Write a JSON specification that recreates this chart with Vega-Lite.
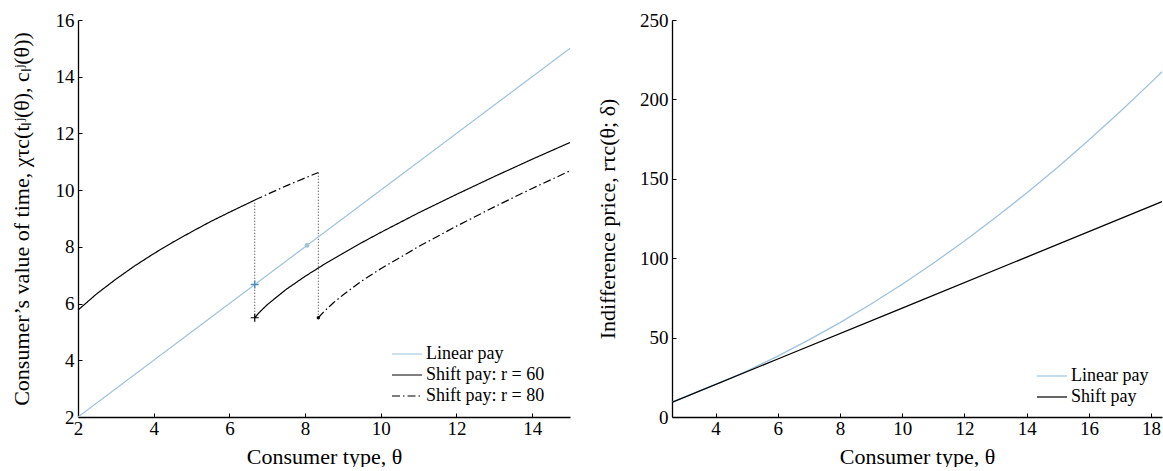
{
  "$schema": "https://vega.github.io/schema/vega-lite/v6.json",
  "padding": {"left": 10, "top": 11, "right": 0, "bottom": 0},
  "background": "white",
  "bounds": "flush",
  "spacing": 102,
  "resolve": {"scale": {"color": "independent", "strokeDash": "independent", "x": "independent", "y": "independent"}, "legend": {"color": "independent", "strokeDash": "independent"}},
  "config": {
    "view": {"stroke": null},
    "font": "Liberation Serif",
    "axis": {
      "grid": false,
      "domainColor": "#000",
      "domainWidth": 1.3,
      "tickColor": "#000",
      "tickSize": -4,
      "tickWidth": 1,
      "labelFont": "Liberation Serif",
      "labelFontWeight": "normal",
      "labelFontSize": 19,
      "labelColor": "#000",
      "labelPadding": 6,
      "labelFlush": false,
      "labelOverlap": false,
      "titleFont": "Liberation Serif",
      "titleFontSize": 22,
      "titleFontWeight": "normal",
      "titleColor": "#000"
    },
    "axisY": {"labelPadding": 8},
    "legend": {
      "labelFont": "Liberation Serif",
      "labelFontWeight": "normal",
      "labelFontSize": 18,
      "labelColor": "#000",
      "symbolType": "M-1.5,0L1.5,0",
      "symbolSize": 400,
      "symbolStrokeWidth": 1.2,
      "symbolFillColor": "transparent",
      "rowPadding": 1,
      "labelOffset": 8,
      "padding": 0
    }
  },
  "datasets": {
    "leftLines": [
      {"theta": 2, "value": 2, "series": "Linear pay", "seg": "a"},
      {"theta": 6, "value": 6, "series": "Linear pay", "seg": "a"},
      {"theta": 10, "value": 10, "series": "Linear pay", "seg": "a"},
      {"theta": 15, "value": 15, "series": "Linear pay", "seg": "a"},
      {"theta": 2, "value": 5.77, "series": "Shift pay: r = 60", "seg": "a"},
      {"theta": 2.5, "value": 6.35, "series": "Shift pay: r = 60", "seg": "a"},
      {"theta": 3, "value": 6.86, "series": "Shift pay: r = 60", "seg": "a"},
      {"theta": 3.5, "value": 7.33, "series": "Shift pay: r = 60", "seg": "a"},
      {"theta": 4, "value": 7.76, "series": "Shift pay: r = 60", "seg": "a"},
      {"theta": 4.5, "value": 8.16, "series": "Shift pay: r = 60", "seg": "a"},
      {"theta": 5, "value": 8.53, "series": "Shift pay: r = 60", "seg": "a"},
      {"theta": 5.5, "value": 8.89, "series": "Shift pay: r = 60", "seg": "a"},
      {"theta": 6, "value": 9.22, "series": "Shift pay: r = 60", "seg": "a"},
      {"theta": 6.5, "value": 9.54, "series": "Shift pay: r = 60", "seg": "a"},
      {"theta": 6.67, "value": 9.65, "series": "Shift pay: r = 60", "seg": "a"},
      {"theta": 6.67, "value": 5.5, "series": "Shift pay: r = 60", "seg": "b"},
      {"theta": 6.8, "value": 5.7, "series": "Shift pay: r = 60", "seg": "b"},
      {"theta": 7, "value": 5.96, "series": "Shift pay: r = 60", "seg": "b"},
      {"theta": 7.5, "value": 6.5, "series": "Shift pay: r = 60", "seg": "b"},
      {"theta": 8, "value": 6.96, "series": "Shift pay: r = 60", "seg": "b"},
      {"theta": 8.5, "value": 7.38, "series": "Shift pay: r = 60", "seg": "b"},
      {"theta": 9, "value": 7.77, "series": "Shift pay: r = 60", "seg": "b"},
      {"theta": 9.5, "value": 8.15, "series": "Shift pay: r = 60", "seg": "b"},
      {"theta": 10, "value": 8.51, "series": "Shift pay: r = 60", "seg": "b"},
      {"theta": 11, "value": 9.2, "series": "Shift pay: r = 60", "seg": "b"},
      {"theta": 12, "value": 9.85, "series": "Shift pay: r = 60", "seg": "b"},
      {"theta": 13, "value": 10.48, "series": "Shift pay: r = 60", "seg": "b"},
      {"theta": 14, "value": 11.09, "series": "Shift pay: r = 60", "seg": "b"},
      {"theta": 15, "value": 11.68, "series": "Shift pay: r = 60", "seg": "b"},
      {"theta": 6.67, "value": 9.65, "series": "Shift pay: r = 80", "seg": "a"},
      {"theta": 7, "value": 9.85, "series": "Shift pay: r = 80", "seg": "a"},
      {"theta": 7.5, "value": 10.15, "series": "Shift pay: r = 80", "seg": "a"},
      {"theta": 8, "value": 10.43, "series": "Shift pay: r = 80", "seg": "a"},
      {"theta": 8.35, "value": 10.62, "series": "Shift pay: r = 80", "seg": "a"},
      {"theta": 8.35, "value": 5.5, "series": "Shift pay: r = 80", "seg": "b"},
      {"theta": 8.5, "value": 5.72, "series": "Shift pay: r = 80", "seg": "b"},
      {"theta": 8.75, "value": 6.03, "series": "Shift pay: r = 80", "seg": "b"},
      {"theta": 9, "value": 6.3, "series": "Shift pay: r = 80", "seg": "b"},
      {"theta": 9.5, "value": 6.8, "series": "Shift pay: r = 80", "seg": "b"},
      {"theta": 10, "value": 7.23, "series": "Shift pay: r = 80", "seg": "b"},
      {"theta": 11, "value": 8.01, "series": "Shift pay: r = 80", "seg": "b"},
      {"theta": 12, "value": 8.73, "series": "Shift pay: r = 80", "seg": "b"},
      {"theta": 13, "value": 9.41, "series": "Shift pay: r = 80", "seg": "b"},
      {"theta": 14, "value": 10.06, "series": "Shift pay: r = 80", "seg": "b"},
      {"theta": 15, "value": 10.68, "series": "Shift pay: r = 80", "seg": "b"}
    ],
    "jumps": [
      {"theta": 6.67, "lo": 5.5, "hi": 9.65},
      {"theta": 8.35, "lo": 5.5, "hi": 10.62}
    ],
    "rightLines": [
      {"theta": 2.6, "value": 9.6, "series": "Linear pay"},
      {"theta": 3, "value": 12.55, "series": "Linear pay"},
      {"theta": 3.5, "value": 16.55, "series": "Linear pay"},
      {"theta": 4, "value": 20.55, "series": "Linear pay"},
      {"theta": 4.5, "value": 24.6, "series": "Linear pay"},
      {"theta": 5, "value": 28.96, "series": "Linear pay"},
      {"theta": 5.5, "value": 33.57, "series": "Linear pay"},
      {"theta": 6, "value": 38.37, "series": "Linear pay"},
      {"theta": 7, "value": 48.54, "series": "Linear pay"},
      {"theta": 8, "value": 59.47, "series": "Linear pay"},
      {"theta": 9, "value": 71.16, "series": "Linear pay"},
      {"theta": 10, "value": 83.62, "series": "Linear pay"},
      {"theta": 11, "value": 96.84, "series": "Linear pay"},
      {"theta": 12, "value": 110.82, "series": "Linear pay"},
      {"theta": 13, "value": 125.57, "series": "Linear pay"},
      {"theta": 14, "value": 141.07, "series": "Linear pay"},
      {"theta": 15, "value": 157.34, "series": "Linear pay"},
      {"theta": 16, "value": 174.38, "series": "Linear pay"},
      {"theta": 17, "value": 192.17, "series": "Linear pay"},
      {"theta": 18, "value": 210.73, "series": "Linear pay"},
      {"theta": 18.35, "value": 217.4, "series": "Linear pay"},
      {"theta": 2.6, "value": 9.26, "series": "Shift pay"},
      {"theta": 6, "value": 36.53, "series": "Shift pay"},
      {"theta": 10, "value": 68.61, "series": "Shift pay"},
      {"theta": 14, "value": 100.69, "series": "Shift pay"},
      {"theta": 18.35, "value": 135.58, "series": "Shift pay"}
    ]
  },
  "hconcat": [
    {
      "width": 492,
      "height": 397,
      "layer": [
        {
          "data": {"name": "jumps"},
          "mark": {"type": "rule", "strokeDash": [1, 2], "strokeWidth": 1, "color": "#333"},
          "encoding": {
            "x": {"field": "theta", "type": "quantitative", "scale": {"domain": [2, 15], "nice": false, "zero": false}},
            "y": {"field": "lo", "type": "quantitative", "scale": {"domain": [2, 16], "nice": false, "zero": false}},
            "y2": {"field": "hi"}
          }
        },
        {
          "data": {"name": "leftLines"},
          "mark": {"type": "line", "strokeWidth": 1.2},
          "encoding": {
            "x": {"field": "theta", "type": "quantitative", "scale": {"domain": [2, 15], "nice": false, "zero": false},
              "axis": {"title": "Consumer type, θ", "values": [2, 4, 6, 8, 10, 12, 14], "titlePadding": 8}},
            "y": {"field": "value", "type": "quantitative", "scale": {"domain": [2, 16], "nice": false, "zero": false},
              "axis": {"title": "Consumer’s value of time, χτc(tₗʲ(θ), cₗʲ(θ))", "values": [2, 4, 6, 8, 10, 12, 14, 16], "titlePadding": 22}},
            "color": {"field": "series", "type": "nominal",
              "scale": {"domain": ["Linear pay", "Shift pay: r = 60", "Shift pay: r = 80"], "range": ["#9ec2dd", "#000000", "#000000"]},
              "legend": {"title": null, "orient": "none", "legendX": 318, "legendY": 323}},
            "strokeDash": {"field": "series", "type": "nominal",
              "scale": {"domain": ["Linear pay", "Shift pay: r = 60", "Shift pay: r = 80"], "range": [[1, 0], [1, 0], [8, 3, 1.5, 3]]},
              "legend": {"title": null, "orient": "none", "legendX": 318, "legendY": 323}},
            "detail": {"field": "seg"}
          }
        },
        {
          "data": {"values": [{"theta": 6.67, "value": 6.67}]},
          "mark": {"type": "point", "shape": "M-1,0L1,0M0,-1L0,1", "filled": false, "stroke": "#4a8ec2", "strokeWidth": 1.4, "size": 64, "opacity": 1},
          "encoding": {
            "x": {"field": "theta", "type": "quantitative"},
            "y": {"field": "value", "type": "quantitative"}
          }
        },
        {
          "data": {"values": [{"theta": 6.67, "value": 5.5}]},
          "mark": {"type": "point", "shape": "M-1,0L1,0M0,-1L0,1", "filled": false, "stroke": "#000", "strokeWidth": 1.2, "size": 64, "opacity": 1},
          "encoding": {
            "x": {"field": "theta", "type": "quantitative"},
            "y": {"field": "value", "type": "quantitative"}
          }
        },
        {
          "data": {"values": [{"theta": 8.05, "value": 8.05}]},
          "mark": {"type": "circle", "color": "#9ec2dd", "size": 22, "opacity": 1},
          "encoding": {
            "x": {"field": "theta", "type": "quantitative"},
            "y": {"field": "value", "type": "quantitative"}
          }
        },
        {
          "data": {"values": [{"theta": 8.35, "value": 5.5}]},
          "mark": {"type": "circle", "color": "#000", "size": 12, "opacity": 1},
          "encoding": {
            "x": {"field": "theta", "type": "quantitative"},
            "y": {"field": "value", "type": "quantitative"}
          }
        }
      ]
    },
    {
      "width": 490,
      "height": 397,
      "data": {"name": "rightLines"},
      "mark": {"type": "line", "strokeWidth": 1.3},
      "encoding": {
        "x": {"field": "theta", "type": "quantitative", "scale": {"domain": [2.6, 18.35], "nice": false, "zero": false},
          "axis": {"title": "Consumer type, θ", "values": [4, 6, 8, 10, 12, 14, 16, 18], "titlePadding": 8}},
        "y": {"field": "value", "type": "quantitative", "scale": {"domain": [0, 250], "nice": false},
          "axis": {"title": "Indifference price, rτc(θ; δ)", "values": [0, 50, 100, 150, 200, 250], "titlePadding": 20}},
        "color": {"field": "series", "type": "nominal",
          "scale": {"domain": ["Linear pay", "Shift pay"], "range": ["#9ec2dd", "#000000"]},
          "legend": {"title": null, "orient": "none", "legendX": 369, "legendY": 345}}
      }
    }
  ]
}
